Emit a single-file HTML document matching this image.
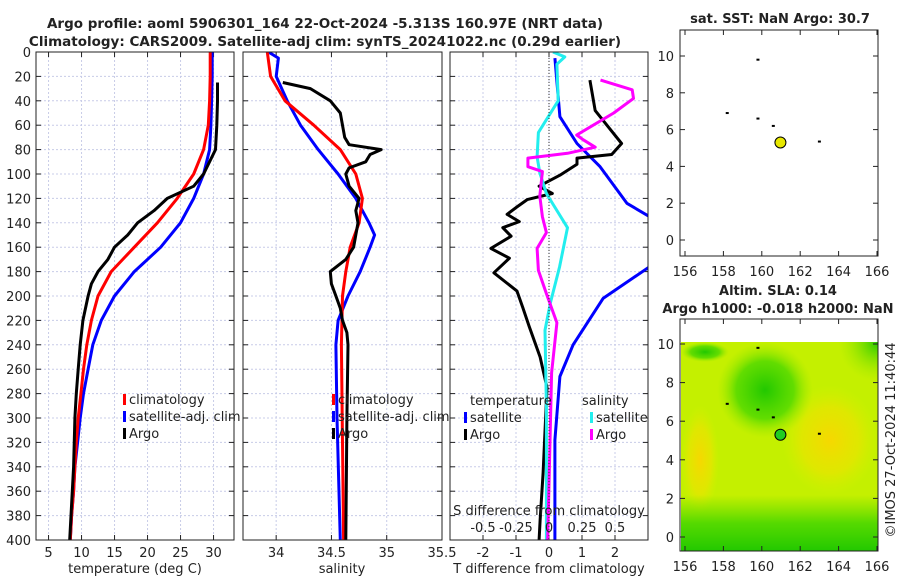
<!DOCTYPE html>
<html><head><meta charset="utf-8"><style>
html,body{margin:0;padding:0;background:#fff;width:900px;height:580px;overflow:hidden;}
svg{display:block;font-family:"DejaVu Sans","Liberation Sans",sans-serif;}
</style></head><body>
<svg id="c" width="900" height="580" viewBox="0 0 900 580">
<g id="bg">
<defs>
<radialGradient id="g1" cx="0.5" cy="0.5" r="0.5"><stop offset="0" stop-color="#22c800"/><stop offset="0.6" stop-color="#4ad800" stop-opacity="0.8"/><stop offset="1" stop-color="#9ae800" stop-opacity="0"/></radialGradient>
<radialGradient id="y1" cx="0.5" cy="0.5" r="0.5"><stop offset="0" stop-color="#f6d800"/><stop offset="0.6" stop-color="#eae400" stop-opacity="0.7"/><stop offset="1" stop-color="#d8f000" stop-opacity="0"/></radialGradient>
<linearGradient id="gb" x1="0" y1="0" x2="0" y2="1"><stop offset="0" stop-color="#4ad800" stop-opacity="0"/><stop offset="0.5" stop-color="#3ad400" stop-opacity="0.8"/><stop offset="1" stop-color="#22c800"/></linearGradient>
<radialGradient id="gc" cx="1" cy="0" r="1"><stop offset="0" stop-color="#22c800"/><stop offset="1" stop-color="#9ae800" stop-opacity="0"/></radialGradient>
<clipPath id="mc"><rect x="681" y="342" width="197" height="209"/></clipPath>
<clipPath id="cp1"><rect x="36" y="52" width="198" height="488"/></clipPath>
<clipPath id="cp2"><rect x="243" y="52" width="199" height="488"/></clipPath>
<clipPath id="cp3"><rect x="450" y="52" width="198" height="488"/></clipPath>
</defs>
</g>
</svg>
<script>
// ---- data ----
const depths=[0,20,40,60,80,100,120,140,160,180,200,220,240,260,280,300,320,340,360,380,400];
const tempClim=[29.5,29.5,29.4,29.2,28.5,27,24.5,21.5,18,14.5,12.5,11.5,10.8,10.3,9.9,9.5,9.2,9,8.8,8.5,8.3];
const tempSat=[29.8,29.8,29.7,29.6,29.4,28.5,27,25,22,18,15,13,11.7,11,10.3,9.8,9.4,9,8.8,8.5,8.3];
const argoTDepth=[25,40,60,80,100,110,120,130,140,150,160,170,180,190,200,220,240,260,280,300,340,400];
const argoT=[30.6,30.6,30.5,30.3,28.5,27,23,21,18.5,17,15,14,12.5,11.5,11,10.2,9.8,9.5,9.2,9,8.8,8.2];
const salClimDepth=[0,20,40,60,80,100,120,140,160,180,200,240,400];
const salClim=[33.92,33.95,34.08,34.34,34.58,34.72,34.78,34.75,34.67,34.63,34.6,34.59,34.61];
const salSatDepth=[0,5,20,40,60,80,100,120,140,150,160,180,200,220,240,300,400];
const salSat=[33.93,34.02,34.0,34.1,34.22,34.38,34.56,34.72,34.84,34.89,34.85,34.76,34.65,34.56,34.54,34.55,34.58];
const argoSDepth=[25,30,40,50,60,70,76,80,84,90,95,100,110,120,130,140,150,160,170,180,190,200,210,220,230,240,300,400];
const argoS=[34.06,34.31,34.49,34.58,34.6,34.62,34.66,34.95,34.85,34.81,34.66,34.63,34.66,34.75,34.72,34.74,34.72,34.7,34.63,34.49,34.5,34.54,34.58,34.6,34.64,34.65,34.64,34.63];
const dTSatDepth=[5,53,75,94,124,135,176,202,240,266,318,400];
const dTSat=[0.18,0.33,0.85,1.55,2.36,3.05,3.05,1.64,0.73,0.33,0.18,0.18];
const dTArgoDepth=[23,48,75,84,87,92,101,110,116,121,127,133,139,144,151,161,169,181,196,209,225,250,275,345,384,400];
const dTArgo=[1.24,1.4,2.2,1.9,0.85,0.85,0.33,-0.3,0.1,-0.66,-0.97,-1.27,-0.9,-1.4,-1.15,-1.76,-1.2,-1.67,-0.97,-0.8,-0.6,-0.27,-0.06,-0.18,-0.27,-0.3];
const dSSatDepth=[0,4,10,40,66,86,99,116,144,176,206,228,291,400];
const dSSat=[0.03,0.12,0.06,0.07,-0.08,-0.09,-0.07,-0.02,0.14,0.08,0.01,-0.03,-0.02,-0.02];
const dSArgoDepth=[23,31,38,50,68,72,78,83,87,94,98,118,135,148,161,179,198,222,263,400];
const dSArgo=[0.39,0.63,0.64,0.49,0.21,0.26,0.35,0.14,-0.16,-0.16,-0.05,-0.07,-0.05,-0.02,-0.09,-0.08,-0.02,0.06,0.02,-0.01];
const depthTicks=[0,20,40,60,80,100,120,140,160,180,200,220,240,260,280,300,320,340,360,380,400];
const tTicks=[5,10,15,20,25,30];
const sTicks=[34,34.5,35,35.5];
const dtTicks=[-2,-1,0,1,2];
const dsTicks=[-0.5,-0.25,0,0.25,0.5];
const dsTickLabels=["-0.5","-0.25","0","0.25","0.5"];
const mapXTicks=[156,158,160,162,164,166];
const mapYTicks=[0,2,4,6,8,10];

const NS="http://www.w3.org/2000/svg";
const svg=document.getElementById('c');
function el(t,a,p){const e=document.createElementNS(NS,t);for(const k in a)e.setAttribute(k,a[k]);(p||svg).appendChild(e);return e;}
function txt(x,y,s,a,p){const e=el('text',Object.assign({x:x,y:y,'font-size':13,fill:'#222'},a||{}),p);e.textContent=s;return e;}
const Y0=52,Y1=540;
const yD=d=>Y0+(Y1-Y0)*d/400;
function panel(name,x0,x1,lo,hi,xticks,clip){
  const g=el('g',{});
  
  
  const sx=v=>x0+(x1-x0)*(v-lo)/(hi-lo);
  for(const d of depthTicks){const l=el('line',{x1:x0,x2:x1,y1:yD(d),y2:yD(d),stroke:'#c8cce8','stroke-width':1,'stroke-dasharray':'2,2'},g);
    
    el('line',{x1:x0,x2:x0+5,y1:yD(d),y2:yD(d),stroke:'#222'},g);el('line',{x1:x1-5,x2:x1,y1:yD(d),y2:yD(d),stroke:'#222'},g);}
  for(const v of xticks){el('line',{x1:sx(v),x2:sx(v),y1:Y0,y2:Y1,stroke:'#c8cce8','stroke-dasharray':'2,2'},g);
    el('line',{x1:sx(v),x2:sx(v),y1:Y1-5,y2:Y1,stroke:'#222'},g);el('line',{x1:sx(v),x2:sx(v),y1:Y0,y2:Y0+5,stroke:'#222'},g);}
  const lg=el('g',{'clip-path':'url(#'+clip+')'},g);
  return {g,sx,lg};
}
function line(g,xs,ds,sx,color,name,w){
  const p=el('polyline',{points:xs.map((v,i)=>sx(v).toFixed(1)+','+yD(ds[i]).toFixed(1)).join(' '),fill:'none',stroke:color,'stroke-width':w||3,'stroke-linejoin':'round'},g);
  
}
function box(g,x0,x1){el('rect',{x:x0,y:Y0,width:x1-x0,height:Y1-Y0,fill:'none',stroke:'#222'},g);}
function legend(g,x,y,items){
  items.forEach((it,i)=>{el('rect',{x:x-6,y:y+i*17-10,width:3,height:11,fill:it[1]},g);
    const t=txt(x,y+i*17,it[0],{},g);});
}
// panel 1
let P=panel('temperature-panel',36,234,3.1,33.1,tTicks,'cp1');
line(P.lg,tempSat,depths,P.sx,'#0000ff','satellite-temp-line');
line(P.lg,tempClim,depths,P.sx,'#ff0000','climatology-temp-line');
line(P.lg,argoT,argoTDepth,P.sx,'#000','argo-temp-line');
box(P.g,36,234);
for(const v of tTicks)txt(P.sx(v),557,String(v),{'text-anchor':'middle'},P.g);
for(const d of depthTicks)txt(31,yD(d)+5,String(d),{'text-anchor':'end'},P.g);
txt(135,573,'temperature (deg C)',{'text-anchor':'middle'},P.g);
legend(P.g,129,404,[['climatology','#ff0000'],['satellite-adj. clim','#0000ff'],['Argo','#000']]);
// panel 2
P=panel('salinity-panel',243,442,33.7,35.5,sTicks,'cp2');
line(P.lg,salSat,salSatDepth,P.sx,'#0000ff','satellite-salinity-line');
line(P.lg,salClim,salClimDepth,P.sx,'#ff0000','climatology-salinity-line');
line(P.lg,argoS,argoSDepth,P.sx,'#000','argo-salinity-line');
box(P.g,243,442);
for(const v of sTicks)txt(P.sx(v),557,String(v),{'text-anchor':'middle'},P.g);
txt(342,573,'salinity',{'text-anchor':'middle'},P.g);
legend(P.g,338,404,[['climatology','#ff0000'],['satellite-adj. clim','#0000ff'],['Argo','#000']]);
// panel 3
P=panel('difference-panel',450,648,-3,3,dtTicks,'cp3');
const sxS=v=>549+v*132;
el('line',{x1:549,x2:549,y1:Y0,y2:Y1,stroke:'#333','stroke-dasharray':'1,2'},P.g);
line(P.lg,dTSat,dTSatDepth,P.sx,'#0000ff','satellite-temp-diff-line');
line(P.lg,dTArgo,dTArgoDepth,P.sx,'#000','argo-temp-diff-line');
line(P.lg,dSSat,dSSatDepth,sxS,'#22eeee','satellite-salinity-diff-line');
line(P.lg,dSArgo,dSArgoDepth,sxS,'#ff00ff','argo-salinity-diff-line');
box(P.g,450,648);
for(const v of dtTicks)txt(P.sx(v),557,String(v),{'text-anchor':'middle'},P.g);
dsTicks.forEach((v,i)=>txt(sxS(v),532,dsTickLabels[i],{'text-anchor':'middle'},P.g));
txt(549,515,'S difference from climatology',{'text-anchor':'middle'},P.g);
txt(549,573,'T difference from climatology',{'text-anchor':'middle'},P.g);
txt(470,405,'temperature',{},P.g);txt(582,405,'salinity',{},P.g);
legend(P.g,470,422,[['satellite','#0000ff'],['Argo','#000']]);
legend(P.g,596,422,[['satellite','#22eeee'],['Argo','#ff00ff']]);
// titles
txt(325,28,'Argo profile: aoml 5906301_164 22-Oct-2024 -5.313S 160.97E (NRT data)',{'text-anchor':'middle','font-weight':'bold','font-size':13.5});
txt(325,46,'Climatology: CARS2009. Satellite-adj clim: synTS_20241022.nc (0.29d earlier)',{'text-anchor':'middle','font-weight':'bold','font-size':13.5});
// maps
function mapAxes(name,y0,y1,yTop,yBot){
  const g=el('g',{});
  const mx=v=>685+(v-156)*19.2, my=v=>yBot-(yBot-yTop)*v/10;
  el('rect',{x:680,y:y0,width:198,height:y1-y0,fill:'none',stroke:'#222'},g);
  for(const v of mapXTicks){el('line',{x1:mx(v),x2:mx(v),y1:y1-5,y2:y1,stroke:'#222'},g);el('line',{x1:mx(v),x2:mx(v),y1:y0,y2:y0+5,stroke:'#222'},g);txt(mx(v),y1+20,String(v),{'text-anchor':'middle'},g);}
  for(const v of mapYTicks){el('line',{x1:680,x2:685,y1:my(v),y2:my(v),stroke:'#222'},g);el('line',{x1:873,x2:878,y1:my(v),y2:my(v),stroke:'#222'},g);txt(674,my(v)+5,String(v),{'text-anchor':'end'},g);}
  return {g,mx,my};
}
let M=mapAxes('sst-map',30,256,56,240);
txt(780,23,'sat. SST: NaN Argo: 30.7',{'text-anchor':'middle','font-weight':'bold'});
let c=el('circle',{cx:M.mx(160.97),cy:M.my(5.3),r:5.5,fill:'#e8e800',stroke:'#000'},M.g);
[[158.2,6.9],[160.6,6.2],[159.8,6.6],[163,5.35],[159.8,9.8]].forEach(p=>el('rect',{x:M.mx(p[0])-1.5,y:M.my(p[1])-1,width:3,height:2,fill:'#000'},M.g));
// SLA map
const mg=el('g',{'clip-path':'url(#mc)'});

el('rect',{x:681,y:342,width:197,height:209,fill:'#c4f000'},mg);
el('ellipse',{cx:700,cy:460,rx:19,ry:55,fill:'url(#y1)'},mg);
el('ellipse',{cx:830,cy:440,rx:48,ry:55,fill:'url(#y1)'},mg);
el('ellipse',{cx:765,cy:390,rx:48,ry:48,fill:'url(#g1)'},mg);
el('rect',{x:681,y:495,width:197,height:56,fill:'url(#gb)'},mg);
el('rect',{x:838,y:342,width:40,height:40,fill:'url(#gc)'},mg);
el('ellipse',{cx:705,cy:352,rx:24,ry:10,fill:'url(#g1)'},mg);
M=mapAxes('sla-map',319,551,344,537);
txt(778,295,'Altim. SLA: 0.14',{'text-anchor':'middle','font-weight':'bold'});
txt(778,313,'Argo h1000: -0.018 h2000: NaN',{'text-anchor':'middle','font-weight':'bold'});
c=el('circle',{cx:M.mx(160.97),cy:M.my(5.3),r:5.5,fill:'#22cc22',stroke:'#000'},M.g);
[[158.2,6.9],[160.6,6.2],[159.8,6.6],[163,5.35],[159.8,9.8]].forEach(p=>el('rect',{x:M.mx(p[0])-1.5,y:M.my(p[1])-1,width:3,height:2,fill:'#000'},M.g));
const st=txt(0,0,'©IMOS 27-Oct-2024 11:40:44',{'text-anchor':'middle',transform:'translate(895,440) rotate(-90)'});

</script>
</body></html>
